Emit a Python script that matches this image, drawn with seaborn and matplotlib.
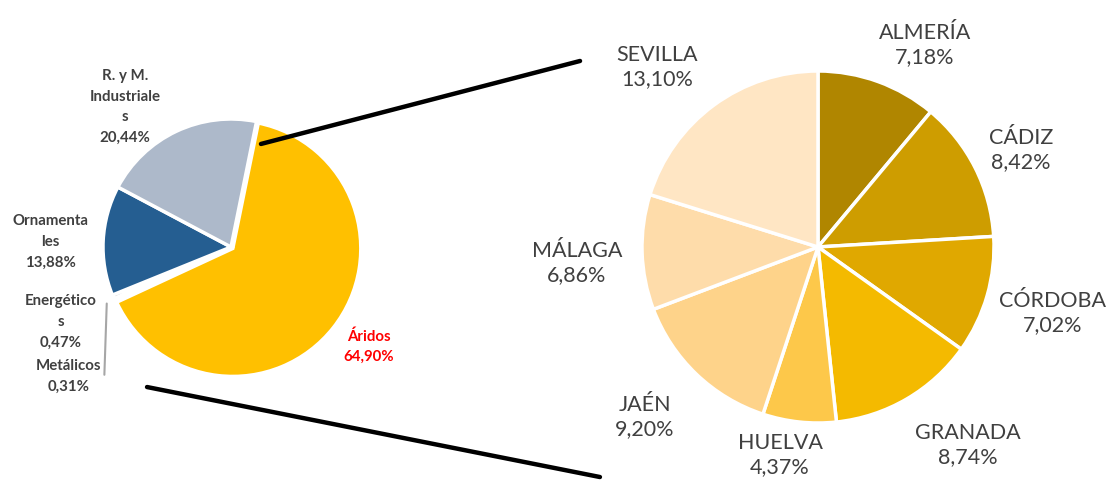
import matplotlib
matplotlib.use("Agg")
import matplotlib.pyplot as plt
import seaborn as sns
from matplotlib.patches import ConnectionPatch

# ---- data ----
left_labels = ["Áridos", "Metálicos", "Energéticos", "Ornamentales", "R. y M. Industriales"]
left_text = ["Áridos\n64,90%", "Metálicos\n0,31%", "Energético\ns\n0,47%",
             "Ornamenta\nles\n13,88%", "R. y M.\nIndustriale\ns\n20,44%"]
left_values = [64.90, 0.31, 0.47, 13.88, 20.44]

right_labels = ["ALMERÍA", "CÁDIZ", "CÓRDOBA", "GRANADA", "HUELVA", "JAÉN", "MÁLAGA", "SEVILLA"]
right_pct = ["7,18%", "8,42%", "7,02%", "8,74%", "4,37%", "9,20%", "6,86%", "13,10%"]
right_values = [7.18, 8.42, 7.02, 8.74, 4.37, 9.20, 6.86, 13.10]

# ---- style ----
sns.set_theme(style="white")
plt.rcParams['font.family'] = ['Lato', 'DejaVu Sans']

left_colors = ["#FFC000", "#A5A5A5", "#7F7F7F", "#255E91", "#ADB9CA"]
right_colors = ["#B08600", "#CE9D00", "#E0A800", "#F4BA00", "#FDC84A",
                "#FED38A", "#FEDCAA", "#FFE6C4"]
txt_color = "#404040"

W, H = 1108, 481
fig = plt.figure(figsize=(W / 100, H / 100), dpi=100)

# left pie: centre (232,248) px, radius 128 px, limits +/-1.2
lr, llim = 128, 1.2
lcx, lcy = 231, 248
ax1 = fig.add_axes([(lcx - llim * lr) / W, (H - lcy - llim * lr) / H,
                    2 * llim * lr / W, 2 * llim * lr / H])
# right pie: centre (818,248) px, radius 176 px, limits +/-1.4
rr, rlim = 176, 1.4
rcx, rcy = 818, 248
ax2 = fig.add_axes([(rcx - rlim * rr) / W, (H - rcy - rlim * rr) / H,
                    2 * rlim * rr / W, 2 * rlim * rr / H])

explode = [0.018, 0, 0, 0, 0]
ax1.pie(left_values, colors=left_colors, startangle=78.5, counterclock=False,
        explode=explode, radius=1.0,
        wedgeprops=dict(edgecolor="white", linewidth=2.5))
ax1.set_xlim(-llim, llim)
ax1.set_ylim(-llim, llim)
ax1.set_aspect("equal")
ax1.axis("off")

# left label layout (axes data units)
left_pos = [(1.078, -0.77), (-1.266, -1.0), (-1.328, -0.578),
            (-1.41, 0.047), (-0.828, 1.10)]
for i, (t, p) in enumerate(zip(left_text, left_pos)):
    col = "#FF0000" if i == 0 else txt_color
    ax1.text(p[0], p[1], t, ha="center", va="center", fontsize=10.8,
             fontweight="bold", color=col, linespacing=1.6)

# leader line for tiny slices
ax1.annotate("", xy=(-0.97, -0.42), xytext=(-0.99, -1.02),
             arrowprops=dict(arrowstyle="-", color="#A6A6A6", lw=1.5))

ax2.pie(right_values, colors=right_colors, startangle=90, counterclock=False,
        radius=1.0, wedgeprops=dict(edgecolor="white", linewidth=2.5))
ax2.set_xlim(-rlim, rlim)
ax2.set_ylim(-rlim, rlim)
ax2.set_aspect("equal")
ax2.axis("off")

right_pos = [(0.608, 1.153), (1.153, 0.557), (1.335, -0.369), (0.852, -1.119),
             (-0.216, -1.176), (-0.983, -0.960), (-1.369, -0.085), (-0.915, 1.028)]
for name, pct, p in zip(right_labels, right_pct, right_pos):
    ax2.text(p[0], p[1], f"{name}\n{pct}", ha="center", va="center",
             fontsize=15.5, color=txt_color, linespacing=1.3)

# connector lines
for a, b in [((0.234, 0.805), (-1.352, 1.057)), ((-0.656, -1.094), (-1.239, -1.307))]:
    con = ConnectionPatch(xyA=a, xyB=b, coordsA=ax1.transData, coordsB=ax2.transData,
                          color="black", lw=3.2)
    fig.add_artist(con)

fig.savefig("out.png", dpi=100)
